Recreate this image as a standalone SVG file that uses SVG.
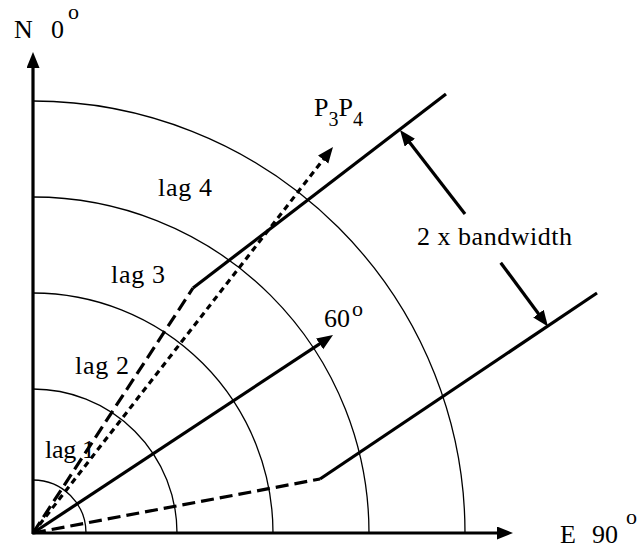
<svg xmlns="http://www.w3.org/2000/svg" width="638" height="548" viewBox="0 0 638 548">
<style>
text{font-family:"Liberation Serif","Times New Roman",serif;fill:#000;font-size:26px}
.sup{font-size:22px}
.sub{font-size:20px}
.arc{fill:none;stroke:#000;stroke-width:1.3}
.ax{fill:none;stroke:#000;stroke-width:3.2}
.thick{fill:none;stroke:#000;stroke-width:3.2}
.dash{fill:none;stroke:#000;stroke-width:3.2;stroke-dasharray:13 6}
.dot{fill:none;stroke:#000;stroke-width:3.2;stroke-dasharray:6 4.5}
</style>
<defs>
<marker id="ah" markerUnits="userSpaceOnUse" markerWidth="18" markerHeight="14" refX="10" refY="6.5" orient="auto">
<path d="M0,0 L16,6.5 L0,13 z" fill="#000"/>
</marker>
</defs>
<g id="arcs">
<path class="arc" d="M33,480 A53,53 0 0 1 86,533"/>
<path class="arc" d="M33,389 A144,144 0 0 1 177,533"/>
<path class="arc" d="M33,293 A240,240 0 0 1 273,533"/>
<path class="arc" d="M33,197 A336,336 0 0 1 369,533"/>
<path class="arc" d="M33,101 A432,432 0 0 1 465,533"/>
</g>
<g id="connectors">
<line class="ax" x1="33" y1="534" x2="33" y2="58" marker-end="url(#ah)"/>
<line class="ax" x1="32" y1="533" x2="507" y2="533" marker-end="url(#ah)"/>
<polyline class="dash" points="33,533 193,288"/>
<polyline class="thick" points="193,288 446,94"/>
<polyline class="dash" points="33,533 320,479"/>
<polyline class="thick" points="320,479 597,293"/>
<line class="thick" x1="33" y1="533" x2="328" y2="338.3" marker-end="url(#ah)"/>
<line class="dot" x1="33" y1="533" x2="329.3" y2="151.7" marker-end="url(#ah)"/>
<line class="thick" x1="465" y1="214" x2="403.7" y2="134.7" marker-end="url(#ah)"/>
<line class="thick" x1="500.7" y1="262.7" x2="544.4" y2="321.7" marker-end="url(#ah)"/>
</g>
<g id="label-north">
<text x="14" y="38">N</text>
<text x="51" y="38">0</text>
<text class="sup" x="68" y="19">o</text>
</g>
<g id="label-east">
<text x="560" y="543">E</text>
<text x="592" y="543">90</text>
<text class="sup" x="626" y="524">o</text>
</g>
<g id="label-p3p4">
<text x="314" y="116">P<tspan class="sub" dy="10">3</tspan><tspan dy="-10">P</tspan><tspan class="sub" dy="10">4</tspan></text>
</g>
<g id="label-60">
<text x="324" y="327">60</text>
<text class="sup" x="352" y="316">o</text>
</g>
<g id="label-bandwidth">
<text x="417" y="245" textLength="155" lengthAdjust="spacing">2 x bandwidth</text>
</g>
<g id="lag-labels">
<text x="158" y="196" textLength="54" lengthAdjust="spacing">lag 4</text>
<text x="111" y="283" textLength="54" lengthAdjust="spacing">lag 3</text>
<text x="75" y="374" textLength="54" lengthAdjust="spacing">lag 2</text>
<text x="45" y="458" textLength="50" lengthAdjust="spacing">lag 1</text>
</g>
</svg>
